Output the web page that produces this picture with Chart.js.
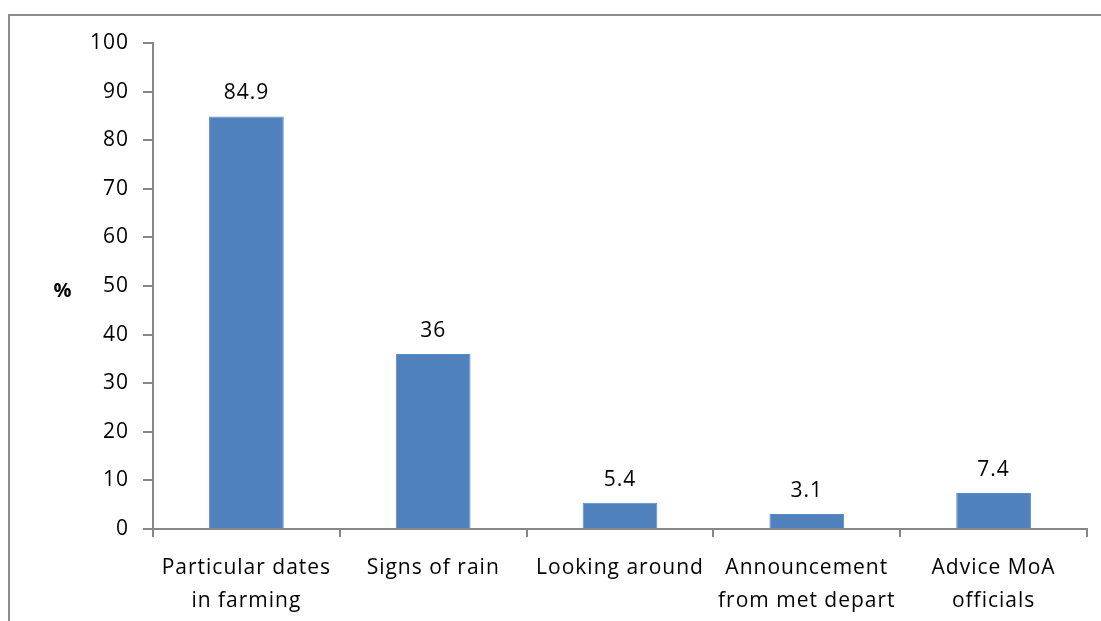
<!DOCTYPE html>
<html>
<head>
<meta charset="utf-8">
<script src="https://cdn.jsdelivr.net/npm/chart.js@4.4.1/dist/chart.umd.min.js"></script>
<style>
  html, body { margin: 0; padding: 0; background: #ffffff; }
  #wrap { position: absolute; left: 0; top: 0; width: 1101px; height: 621px; }
</style>
</head>
<body>
<div id="wrap"><canvas id="chart" width="1101" height="621"></canvas></div>
<script>
// Sources of information on the start of the rainy season (% of respondents)
const categories = [
  ['Particular dates', 'in farming'],
  ['Signs of rain'],
  ['Looking around'],
  ['Announcement', 'from met depart'],
  ['Advice MoA', 'officials']
];
const percentValues = [84.9, 36, 5.4, 3.1, 7.4];
const yTicks = [0, 10, 20, 30, 40, 50, 60, 70, 80, 90, 100];
const yAxisTitle = '%';

const FONT = '"Open Sans", "DejaVu Sans", sans-serif';
const AXIS_GREY = '#878787';
const BAR_BLUE = '#4f81bd';
const TRACKING = '1px';

// Slightly open letter spacing for all canvas text
const trackingPlugin = {
  id: 'tracking',
  beforeLayout(chart) { chart.ctx.letterSpacing = TRACKING; },
  beforeDraw(chart) { chart.ctx.letterSpacing = TRACKING; }
};

// Frame around the whole figure
const framePlugin = {
  id: 'frame',
  beforeDraw(chart) {
    const ctx = chart.ctx;
    ctx.save();
    ctx.strokeStyle = '#8c8c8c';
    ctx.lineWidth = 2;
    ctx.strokeRect(9, 15, 1200, 800);
    ctx.restore();
  }
};

// Horizontal "%" label beside the value axis
const axisTitlePlugin = {
  id: 'axisTitle',
  afterDraw(chart) {
    const ctx = chart.ctx;
    const y = chart.scales.y.getPixelForValue(50);
    ctx.save();
    ctx.font = 'bold 20px ' + FONT;
    ctx.fillStyle = '#000';
    ctx.textAlign = 'center';
    ctx.textBaseline = 'middle';
    ctx.fillText(yAxisTitle, 63, y + 5);
    ctx.restore();
  }
};

// Value printed above each bar
const valueLabelPlugin = {
  id: 'valueLabels',
  afterDatasetsDraw(chart) {
    const ctx = chart.ctx;
    const meta = chart.getDatasetMeta(0);
    ctx.save();
    ctx.font = '21px ' + FONT;
    ctx.fillStyle = '#000';
    ctx.textAlign = 'center';
    ctx.textBaseline = 'middle';
    meta.data.forEach((bar, i) => {
      ctx.fillText(String(percentValues[i]), bar.x, bar.y - 23);
    });
    ctx.restore();
  }
};

new Chart(document.getElementById('chart'), {
  type: 'bar',
  data: {
    labels: categories,
    datasets: [{
      data: percentValues,
      backgroundColor: BAR_BLUE,
      borderColor: '#5a8ac4',
      borderWidth: 1,
      barPercentage: 0.4,
      categoryPercentage: 1.0
    }]
  },
  options: {
    responsive: false,
    animation: false,
    devicePixelRatio: 1,
    layout: { padding: { top: 43, right: 14, bottom: 0, left: 0 } },
    plugins: {
      legend: { display: false },
      tooltip: { enabled: false }
    },
    scales: {
      x: {
        offset: true,
        grid: {
          display: true,
          offset: true,
          drawOnChartArea: false,
          drawTicks: true,
          tickLength: 8,
          color: AXIS_GREY,
          lineWidth: 2
        },
        border: { display: true, color: AXIS_GREY, width: 2 },
        ticks: {
          font: { family: FONT, size: 21, lineHeight: 1.57 },
          color: '#000',
          padding: 15,
          maxRotation: 0,
          autoSkip: false
        },
        afterFit(scale) { scale.height = 92; }
      },
      y: {
        min: 0,
        max: 100,
        afterBuildTicks(scale) { scale.ticks = yTicks.map(v => ({ value: v })); },
        grid: {
          display: true,
          drawOnChartArea: false,
          drawTicks: true,
          tickLength: 10,
          color: AXIS_GREY,
          lineWidth: 2
        },
        border: { display: true, color: AXIS_GREY, width: 2 },
        ticks: {
          font: { family: FONT, size: 21 },
          color: '#000',
          padding: 14
        },
        afterFit(scale) { scale.width = 153; }
      }
    }
  },
  plugins: [trackingPlugin, framePlugin, axisTitlePlugin, valueLabelPlugin]
});
</script>
</body>
</html>
